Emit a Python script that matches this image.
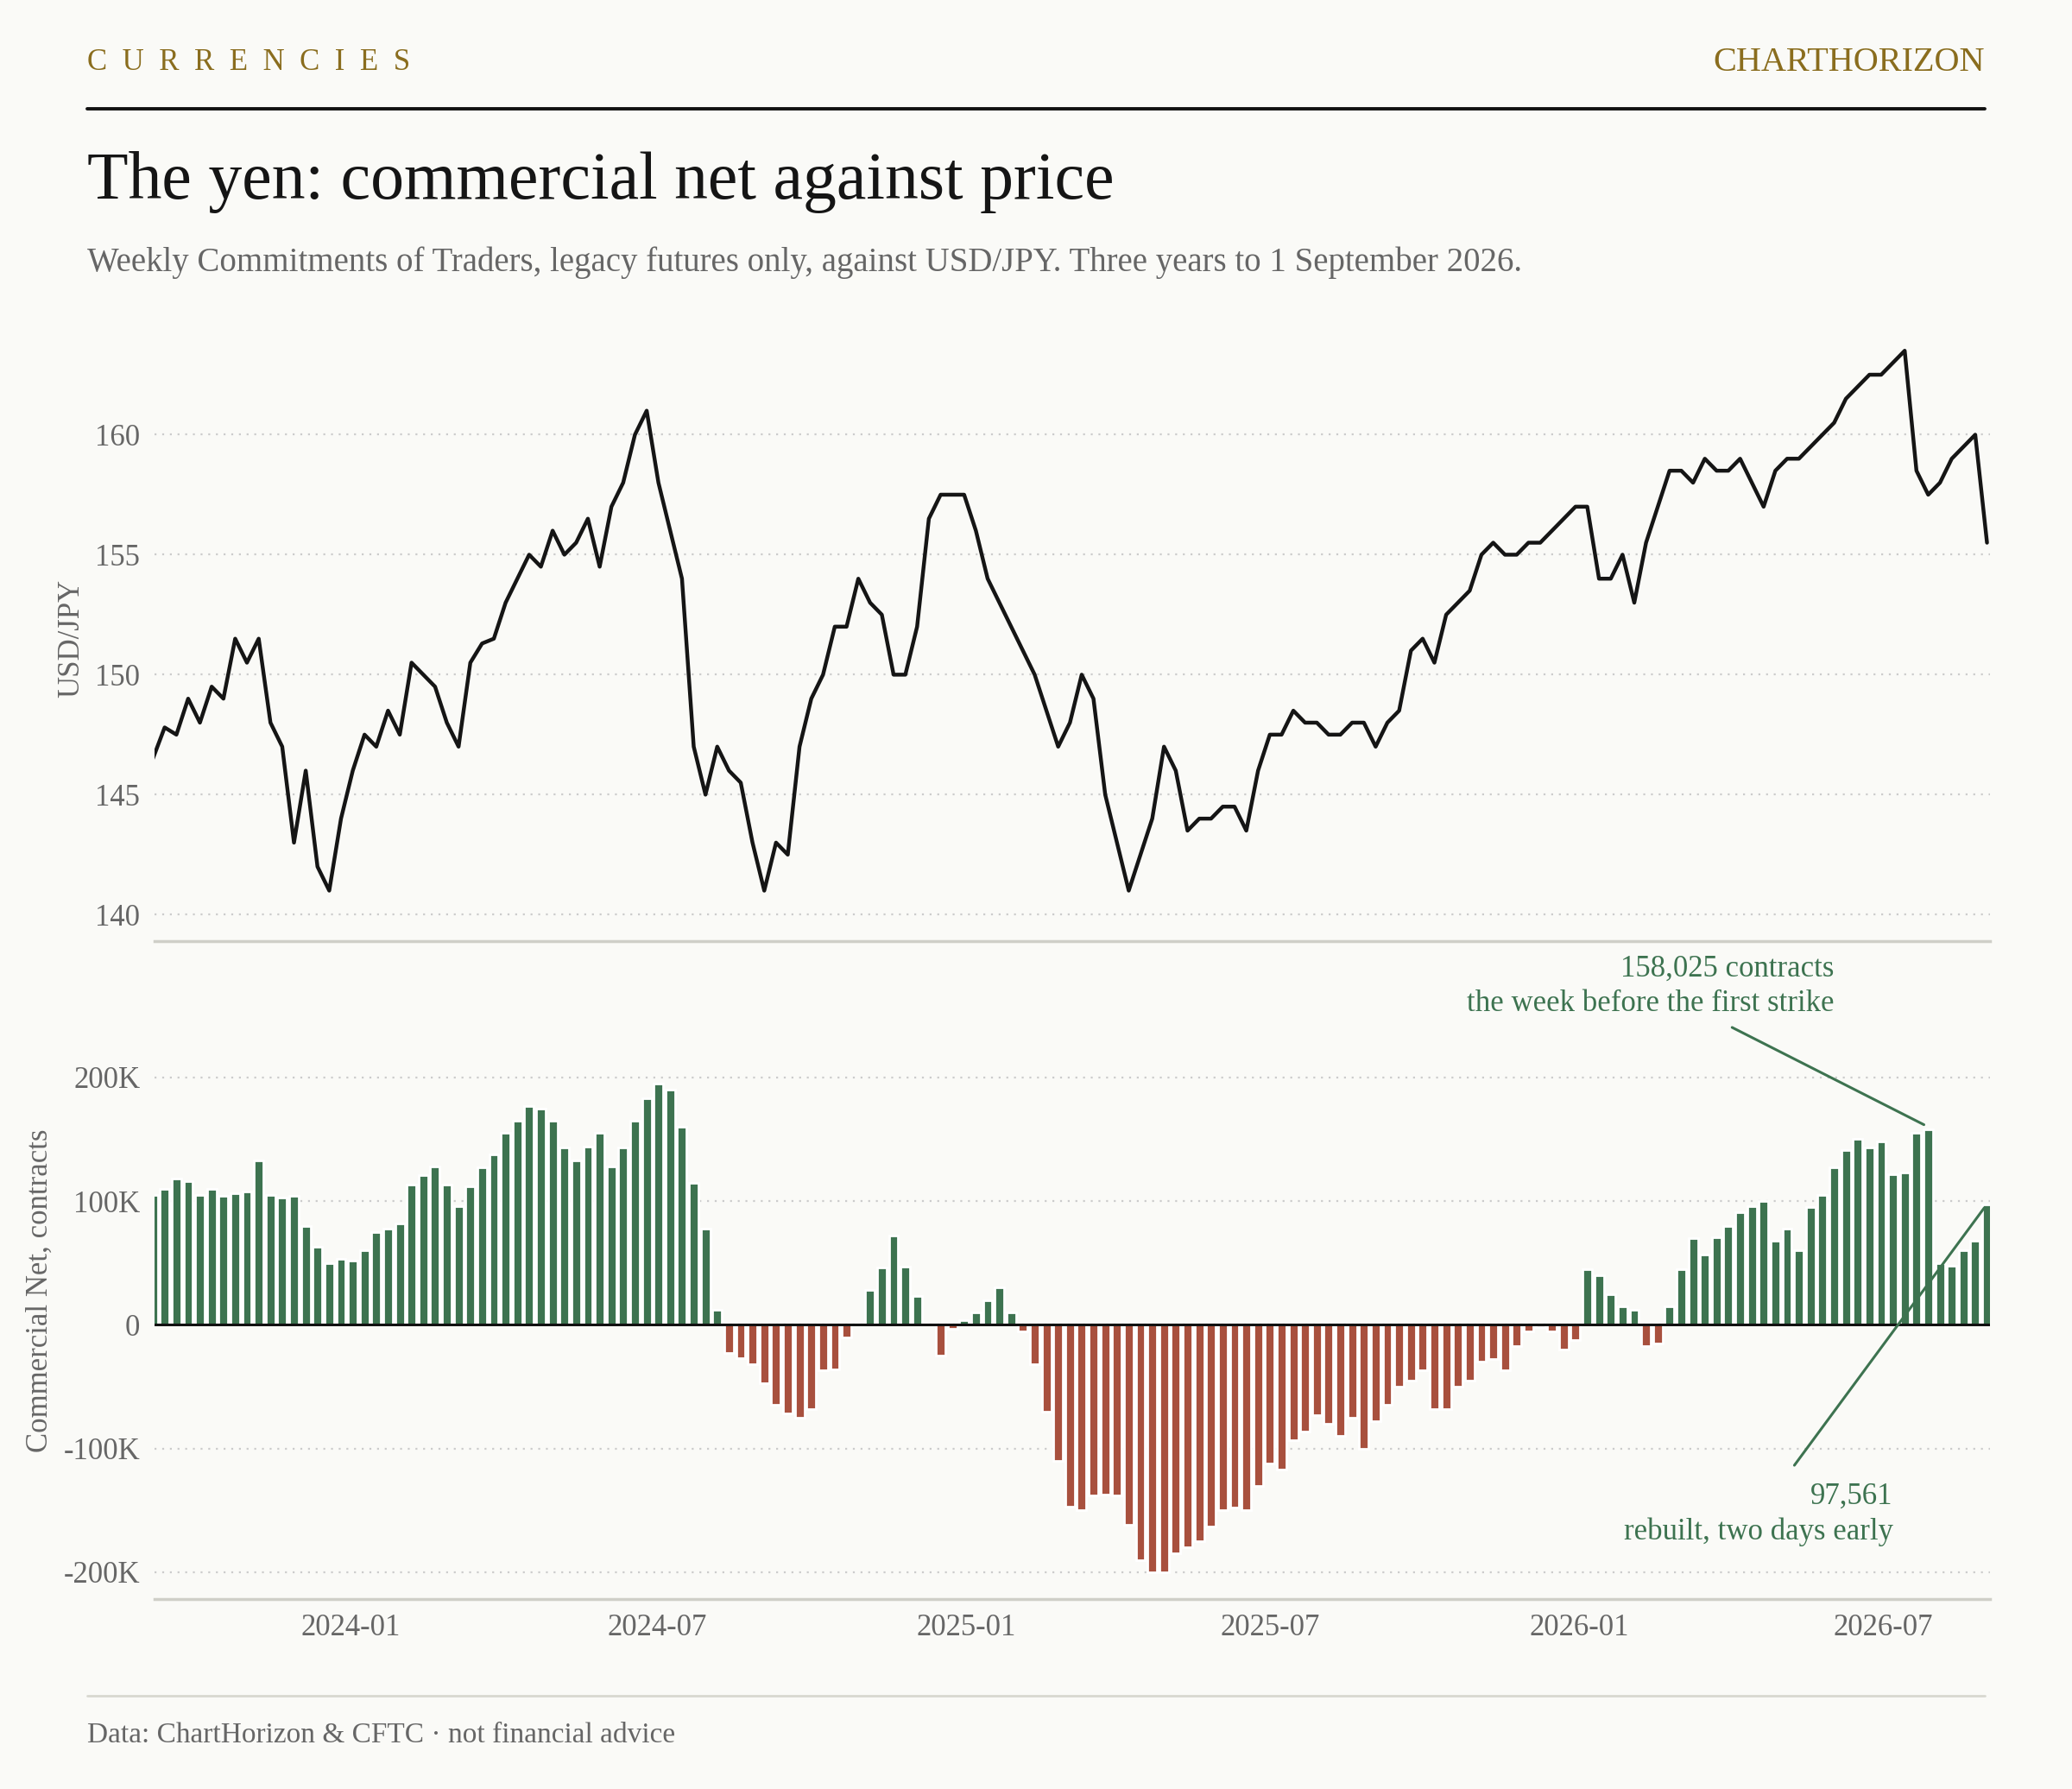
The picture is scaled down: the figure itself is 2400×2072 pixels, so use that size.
import numpy as np, pandas as pd, seaborn as sns, matplotlib.pyplot as plt
import matplotlib.dates as mdates
from matplotlib.ticker import FuncFormatter

sns.set_theme(style="white")
plt.rcParams['font.family'] = ['Liberation Serif', 'DejaVu Serif']

price = [146.5,147.8,147.5,149,148,149.5,149,151.5,150.5,151.5,148,147,143,146,142,141,144,146,147.5,147,148.5,147.5,150.5,150,149.5,148,147,150.5,151.3,151.5,153,154,155,154.5,156,155,155.5,156.5,154.5,157,158,160,161,158,156,154,147,145,147,146,145.5,143,141,143,142.5,147,149,150,152,152,154,153,152.5,150,150,152,156.5,157.5,157.5,157.5,156,154,153,152,151,150,148.5,147,148,150,149,145,143,141,142.5,144,147,146,143.5,144,144,144.5,144.5,143.5,146,147.5,147.5,148.5,148,148,147.5,147.5,148,148,147,148,148.5,151,151.5,150.5,152.5,153,153.5,155,155.5,155,155,155.5,155.5,156,156.5,157,157,154,154,155,153,155.5,157,158.5,158.5,158,159,158.5,158.5,159,158,157,158.5,159,159,159.5,160,160.5,161.5,162,162.5,162.5,163,163.5,158.5,157.5,158,159,159.5,160,155.5]
net_k = [105,110,118,116,105,110,104,106,108,133,105,103,104,80,63,50,53,52,60,75,78,82,113,121,128,113,96,112,127,138,155,165,177,175,165,143,133,144,155,128,143,165,183,195,190,160,115,78,12,
 -23,-27,-32,-47,-65,-72,-75,-68,-37,-36,-10,0,28,46,72,47,23,0,-25,-3,4,10,20,30,10,-5,-32,-70,-110,-147,-150,-138,-137,-138,-162,-190,-200,-200,-185,-180,-175,-163,-150,-148,-150,-130,-112,-117,-93,-86,-73,-80,-90,-75,-100,-78,-65,-50,-45,-37,-68,-68,-50,-45,-30,-28,-37,-17,-5,-2,-5,-20,-12,
 45,40,25,15,12,-17,-15,15,45,70,57,71,80,91,96,100,68,78,60,95,105,127,141,150,143,148,122,123,155,158.025,50,48,60,68,97.561]

end = pd.Timestamp('2026-09-01')
pdates = pd.date_range(end=end, periods=len(price), freq='7D')
ndates = pd.date_range(end=end, periods=len(net_k), freq='7D')
net = np.array(net_k) * 1000

BG = '#fafaf7'; GOLD = '#8a6d1e'; GREEN = '#3d7350'; RED = '#a8503e'; GREY = '#666666'
fig = plt.figure(figsize=(12, 10.36), dpi=200, facecolor=BG)
ax1 = fig.add_axes([0.0746, 0.474, 0.886, 0.338], facecolor=BG)
ax2 = fig.add_axes([0.0746, 0.106, 0.886, 0.345], facecolor=BG, sharex=ax1)

sns.lineplot(x=pdates, y=price, ax=ax1, color='#151515', lw=1.6)
ax1.set_ylim(138.9, 164.1)
ax1.set_yticks([140, 145, 150, 155, 160])
ax1.set_ylabel('USD/JPY', color=GREY, fontsize=12.5)

colors = [GREEN if v >= 0 else RED for v in net]
ax2.bar(ndates, net, width=5.6, color=colors)
ax2.axhline(0, color='#111111', lw=1.1)
ax2.set_ylim(-222000, 277000)
ax2.set_yticks([-200000, -100000, 0, 100000, 200000])
ax2.yaxis.set_major_formatter(FuncFormatter(lambda v, p: '0' if v == 0 else f'{int(v/1000)}K'))
ax2.set_ylabel('Commercial Net, contracts', color=GREY, fontsize=12.5)
ax2.set_xlim(pd.Timestamp('2023-09-06'), pd.Timestamp('2026-09-03'))
ax2.xaxis.set_major_locator(mdates.MonthLocator(bymonth=[1, 7]))
ax2.xaxis.set_major_formatter(mdates.DateFormatter('%Y-%m'))
plt.setp(ax1.get_xticklabels(), visible=False)

for ax in (ax1, ax2):
    ax.grid(axis='y', color='#cccccc', ls=(0, (1, 3)), lw=0.8)
    for s in ('top', 'right', 'left'):
        ax.spines[s].set_visible(False)
    ax.spines['bottom'].set_color('#cfcfc8')
    ax.tick_params(axis='both', colors=GREY, labelsize=12.5, length=0, pad=6)
    ax.set_xlabel('')

ax2.annotate('158,025 contracts\nthe week before the first strike', xy=(ndates[-6], 160000),
             xytext=(0.915, 1.045), textcoords='axes fraction', ha='right', va='top',
             color=GREEN, fontsize=12.5, linespacing=1.3,
             arrowprops=dict(arrowstyle='-', color=GREEN, lw=1.1, shrinkA=4, shrinkB=2))
ax2.annotate('97,561\nrebuilt, two days early', xy=(ndates[-1], 97561),
             xytext=(0.947, 0.19), textcoords='axes fraction', ha='right', va='top',
             color=GREEN, fontsize=12.5, linespacing=1.3,
             arrowprops=dict(arrowstyle='-', color=GREEN, lw=1.1, shrinkA=6, shrinkB=2))

fig.text(0.042, 0.965, '  '.join('CURRENCIES'), color=GOLD, fontsize=12.5, va='center')
fig.text(0.958, 0.965, 'CHARTHORIZON', color=GOLD, fontsize=14.5, va='center', ha='right')
fig.add_artist(plt.Line2D([0.042, 0.958], [0.939, 0.939], color='#111111', lw=1.4))
fig.text(0.042, 0.898, 'The yen: commercial net against price', fontsize=28, color='#151515', va='center')
fig.text(0.042, 0.853, 'Weekly Commitments of Traders, legacy futures only, against USD/JPY. Three years to 1 September 2026.',
         fontsize=14, color=GREY, va='center')
fig.add_artist(plt.Line2D([0.042, 0.958], [0.052, 0.052], color='#d8d8d0', lw=1))
fig.text(0.042, 0.030, 'Data: ChartHorizon & CFTC · not financial advice', fontsize=12, color=GREY, va='center')

fig.savefig('out.png', dpi=200, facecolor=BG)
